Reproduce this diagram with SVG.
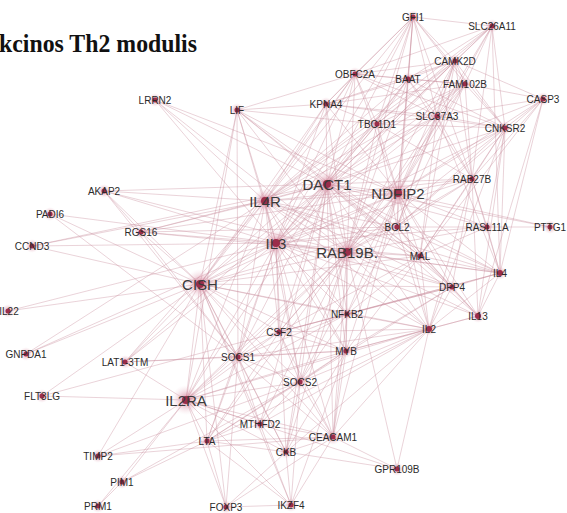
<svg xmlns="http://www.w3.org/2000/svg" width="567" height="513" viewBox="0 0 567 513">
<style>
.e{fill:none;stroke:#c98b9c;stroke-opacity:.55;stroke-width:.7}
.h{fill:url(#halo)}
.d{fill:#9b2d4a}
.t{font-family:"Liberation Sans",Arial,sans-serif;font-size:10px;fill:#2b2b2b;text-anchor:middle}
.T{font-family:"Liberation Sans",Arial,sans-serif;font-size:15px;fill:#3a3a3a;text-anchor:middle}
.title{font-family:"Liberation Serif","Times New Roman",serif;font-weight:bold;font-size:26px;fill:#111}
</style>
<defs>
<radialGradient id="halo"><stop offset="0" stop-color="#c04a6a" stop-opacity=".75"/><stop offset=".5" stop-color="#d88aa0" stop-opacity=".35"/><stop offset="1" stop-color="#f0c8d4" stop-opacity="0"/></radialGradient>
</defs>
<rect width="567" height="513" fill="#fff"/>
<text class="title" x="-1" y="52" textLength="198" lengthAdjust="spacingAndGlyphs">kcinos Th2 modulis</text>
<g id="connectors">
<path class="e" d="M413 17L492 26M413 17L455 61M413 17L355 74M413 17L408 79M413 17L326 104M413 17L377 124M413 17L437 116M413 17L327 184M413 17L398 193M413 17L265 201M413 17L472 179M413 17L465 84M413 17L505 128M413 17L347 252M413 17L276 243M413 17L397 227"/>
<path class="e" d="M492 26L455 61M492 26L408 79M492 26L465 84M492 26L355 74M492 26L327 184M492 26L398 193M492 26L472 179M492 26L505 128M492 26L437 116M492 26L265 201M492 26L377 124M492 26L500 273"/>
<path class="e" d="M455 61L355 74M455 61L408 79M455 61L465 84M455 61L543 99M455 61L437 116M455 61L377 124M455 61L505 128M455 61L327 184M455 61L398 193M455 61L472 179M455 61L326 104M455 61L265 201M455 61L347 252M455 61L276 243M455 61L397 227M455 61L420 256"/>
<path class="e" d="M355 74L408 79M355 74L465 84M355 74L326 104M355 74L377 124M355 74L327 184M355 74L398 193M355 74L265 201M355 74L505 128M355 74L437 116M355 74L347 252M355 74L276 243M355 74L200 284M355 74L237 110"/>
<path class="e" d="M408 79L465 84M408 79L377 124M408 79L437 116M408 79L505 128M408 79L327 184M408 79L398 193M408 79L326 104M408 79L265 201M408 79L472 179M408 79L276 243M408 79L347 252"/>
<path class="e" d="M465 84L543 99M465 84L437 116M465 84L505 128M465 84L327 184M465 84L398 193M465 84L472 179M465 84L377 124M465 84L326 104M465 84L265 201M465 84L347 252M465 84L397 227M465 84L276 243"/>
<path class="e" d="M326 104L377 124M326 104L327 184M326 104L398 193M326 104L265 201M326 104L276 243M326 104L347 252M326 104L200 284M326 104L437 116M326 104L505 128M326 104L237 110"/>
<path class="e" d="M543 99L437 116M543 99L505 128M543 99L398 193M543 99L472 179M543 99L327 184M543 99L500 273M543 99L397 227M543 99L420 256M543 99L478 316"/>
<path class="e" d="M437 116L377 124M437 116L505 128M437 116L327 184M437 116L398 193M437 116L472 179M437 116L265 201M437 116L347 252M437 116L276 243M437 116L397 227M437 116L420 256M437 116L500 273"/>
<path class="e" d="M377 124L505 128M377 124L327 184M377 124L398 193M377 124L265 201M377 124L347 252M377 124L276 243M377 124L397 227M377 124L200 284M377 124L472 179"/>
<path class="e" d="M505 128L327 184M505 128L398 193M505 128L472 179M505 128L347 252M505 128L500 273M505 128L397 227M505 128L420 256M505 128L487 227M505 128L478 316M505 128L429 329M505 128L276 243"/>
<path class="e" d="M155 100L265 201M155 100L327 184M155 100L276 243M155 100L347 252M155 100L398 193"/>
<path class="e" d="M237 110L265 201M237 110L327 184M237 110L398 193M237 110L276 243M237 110L347 252M237 110L200 284M237 110L397 227M237 110L186 400M237 110L420 256M237 110L377 124M237 110L238 357"/>
<path class="e" d="M327 184L398 193M327 184L265 201M327 184L276 243M327 184L347 252M327 184L397 227M327 184L420 256M327 184L472 179M327 184L487 227M327 184L550 227M327 184L500 273M327 184L200 284M327 184L452 287M327 184L347 314M327 184L429 329M327 184L478 316M327 184L279 332M327 184L346 351M327 184L238 357M327 184L300 382M327 184L186 400M327 184L104 191M327 184L141 232M327 184L32 246M327 184L125 362M327 184L333 437M327 184L286 452M327 184L260 424"/>
<path class="e" d="M398 193L265 201M398 193L276 243M398 193L347 252M398 193L397 227M398 193L420 256M398 193L472 179M398 193L487 227M398 193L550 227M398 193L500 273M398 193L200 284M398 193L452 287M398 193L347 314M398 193L429 329M398 193L478 316M398 193L279 332M398 193L346 351M398 193L300 382M398 193L186 400M398 193L141 232M398 193L333 437"/>
<path class="e" d="M265 201L276 243M265 201L347 252M265 201L397 227M265 201L420 256M265 201L472 179M265 201L200 284M265 201L104 191M265 201L141 232M265 201L279 332M265 201L238 357M265 201L300 382M265 201L186 400M265 201L347 314M265 201L429 329M265 201L346 351M265 201L452 287M265 201L500 273M265 201L125 362M265 201L32 246M265 201L26 354"/>
<path class="e" d="M472 179L347 252M472 179L397 227M472 179L420 256M472 179L500 273M472 179L478 316M472 179L452 287M472 179L429 329M472 179L487 227M472 179L276 243"/>
<path class="e" d="M104 191L276 243M104 191L200 284M104 191L141 232M104 191L238 357M104 191L347 252M50 214L276 243M50 214L238 357M50 214L200 284M32 246L200 284M32 246L276 243"/>
<path class="e" d="M141 232L397 227M141 232L276 243M141 232L200 284M141 232L238 357M141 232L347 252"/>
<path class="e" d="M397 227L276 243M397 227L347 252M397 227L420 256M397 227L500 273M397 227L452 287M397 227L429 329M397 227L478 316M397 227L487 227M397 227L347 314M397 227L200 284"/>
<path class="e" d="M487 227L550 227M487 227L347 252M487 227L276 243M487 227L420 256M487 227L500 273"/>
<path class="e" d="M276 243L347 252M276 243L420 256M276 243L200 284M276 243L452 287M276 243L347 314M276 243L429 329M276 243L279 332M276 243L346 351M276 243L238 357M276 243L300 382M276 243L186 400M276 243L333 437M276 243L125 362M276 243L500 273M276 243L478 316M276 243L26 354M276 243L8 311M276 243L207 441M276 243L286 452"/>
<path class="e" d="M347 252L420 256M347 252L200 284M347 252L452 287M347 252L347 314M347 252L429 329M347 252L500 273M347 252L478 316M347 252L279 332M347 252L346 351M347 252L238 357M347 252L300 382M347 252L186 400M347 252L333 437M347 252L260 424M347 252L286 452M347 252L207 441M347 252L397 469"/>
<path class="e" d="M420 256L500 273M420 256L452 287M420 256L429 329M420 256L478 316M420 256L347 314M420 256L200 284M420 256L279 332M420 256L346 351"/>
<path class="e" d="M500 273L452 287M500 273L478 316M500 273L429 329M500 273L347 314M500 273L279 332"/>
<path class="e" d="M200 284L452 287M200 284L347 314M200 284L429 329M200 284L279 332M200 284L346 351M200 284L238 357M200 284L300 382M200 284L186 400M200 284L8 311M200 284L26 354M200 284L125 362M200 284L42 396M200 284L98 456M200 284L207 441M200 284L333 437M200 284L260 424M200 284L286 452M200 284L226 507M200 284L291 505"/>
<path class="e" d="M452 287L478 316M452 287L429 329M452 287L347 314M452 287L346 351M452 287L279 332M452 287L300 382"/>
<path class="e" d="M347 314L429 329M347 314L279 332M347 314L346 351M347 314L238 357M347 314L300 382M347 314L333 437M347 314L186 400M478 316L429 329M478 316L346 351"/>
<path class="e" d="M429 329L279 332M429 329L346 351M429 329L238 357M429 329L300 382M429 329L186 400M429 329L333 437M429 329L397 469M429 329L207 441M429 329L286 452M429 329L260 424"/>
<path class="e" d="M279 332L346 351M279 332L238 357M279 332L300 382M279 332L186 400M279 332L333 437M279 332L207 441"/>
<path class="e" d="M346 351L238 357M346 351L300 382M346 351L186 400M346 351L333 437M346 351L286 452M346 351L207 441M346 351L291 505"/>
<path class="e" d="M125 362L186 400M125 362L238 357M125 362L346 351"/>
<path class="e" d="M238 357L300 382M238 357L186 400M238 357L333 437M238 357L207 441M238 357L260 424M238 357L286 452M238 357L226 507"/>
<path class="e" d="M300 382L186 400M300 382L333 437M300 382L207 441M300 382L286 452M300 382L260 424M300 382L122 482M300 382L291 505M300 382L98 456"/>
<path class="e" d="M42 396L186 400M42 396L279 332"/>
<path class="e" d="M186 400L260 424M186 400L333 437M186 400L207 441M186 400L286 452M186 400L98 456M186 400L122 482M186 400L226 507M186 400L291 505M186 400L98 506M186 400L397 469"/>
<path class="e" d="M260 424L333 437M260 424L207 441M260 424L286 452M260 424L291 505"/>
<path class="e" d="M333 437L207 441M333 437L286 452M333 437L226 507M333 437L291 505M333 437L397 469M333 437L98 456"/>
<path class="e" d="M207 441L286 452M207 441L226 507M207 441L291 505M207 441L98 456M207 441L122 482"/>
<path class="e" d="M286 452L226 507M286 452L291 505M286 452L397 469M122 482L98 506M226 507L291 505"/>
</g>
<g id="GFI1"><circle class="h" cx="413" cy="17" r="7"/><circle class="d" cx="413" cy="17" r="2.5"/><text class="t" x="413" y="21">GFI1</text></g>
<g id="SLC26A11"><circle class="h" cx="492" cy="26" r="7"/><circle class="d" cx="492" cy="26" r="2.5"/><text class="t" x="492" y="30">SLC26A11</text></g>
<g id="CAMK2D"><circle class="h" cx="455" cy="61" r="7"/><circle class="d" cx="455" cy="61" r="2.5"/><text class="t" x="455" y="65">CAMK2D</text></g>
<g id="OBFC2A"><circle class="h" cx="355" cy="74" r="7"/><circle class="d" cx="355" cy="74" r="2.5"/><text class="t" x="355" y="78">OBFC2A</text></g>
<g id="BAAT"><circle class="h" cx="408" cy="79" r="7"/><circle class="d" cx="408" cy="79" r="2.5"/><text class="t" x="408" y="83">BAAT</text></g>
<g id="FAM102B"><circle class="h" cx="465" cy="84" r="7"/><circle class="d" cx="465" cy="84" r="2.5"/><text class="t" x="465" y="88">FAM102B</text></g>
<g id="KPNA4"><circle class="h" cx="326" cy="104" r="7"/><circle class="d" cx="326" cy="104" r="2.5"/><text class="t" x="326" y="108">KPNA4</text></g>
<g id="CASP3"><circle class="h" cx="543" cy="99" r="7"/><circle class="d" cx="543" cy="99" r="2.5"/><text class="t" x="543" y="103">CASP3</text></g>
<g id="SLC37A3"><circle class="h" cx="437" cy="116" r="7"/><circle class="d" cx="437" cy="116" r="2.5"/><text class="t" x="437" y="120">SLC37A3</text></g>
<g id="TBC1D1"><circle class="h" cx="377" cy="124" r="7"/><circle class="d" cx="377" cy="124" r="2.5"/><text class="t" x="377" y="128">TBC1D1</text></g>
<g id="CNKSR2"><circle class="h" cx="505" cy="128" r="7"/><circle class="d" cx="505" cy="128" r="2.5"/><text class="t" x="505" y="132">CNKSR2</text></g>
<g id="LRRN2"><circle class="h" cx="155" cy="100" r="7"/><circle class="d" cx="155" cy="100" r="2.5"/><text class="t" x="155" y="104">LRRN2</text></g>
<g id="LIF"><circle class="h" cx="237" cy="110" r="7"/><circle class="d" cx="237" cy="110" r="2.5"/><text class="t" x="237" y="114">LIF</text></g>
<g id="DACT1"><circle class="h" cx="327" cy="184" r="14"/><circle class="d" cx="327" cy="184" r="4"/><text class="T" x="327" y="190">DACT1</text></g>
<g id="NDFIP2"><circle class="h" cx="398" cy="193" r="14"/><circle class="d" cx="398" cy="193" r="4"/><text class="T" x="398" y="199">NDFIP2</text></g>
<g id="IL4R"><circle class="h" cx="265" cy="201" r="13"/><circle class="d" cx="265" cy="201" r="4"/><text class="T" x="265" y="207">IL4R</text></g>
<g id="RAB27B"><circle class="h" cx="472" cy="179" r="7"/><circle class="d" cx="472" cy="179" r="2.5"/><text class="t" x="472" y="183">RAB27B</text></g>
<g id="AKAP2"><circle class="h" cx="104" cy="191" r="7"/><circle class="d" cx="104" cy="191" r="2.5"/><text class="t" x="104" y="195">AKAP2</text></g>
<g id="PADI6"><circle class="h" cx="50" cy="214" r="7"/><circle class="d" cx="50" cy="214" r="2.5"/><text class="t" x="50" y="218">PADI6</text></g>
<g id="CCND3"><circle class="h" cx="32" cy="246" r="7"/><circle class="d" cx="32" cy="246" r="2.5"/><text class="t" x="32" y="250">CCND3</text></g>
<g id="RGS16"><circle class="h" cx="141" cy="232" r="7"/><circle class="d" cx="141" cy="232" r="2.5"/><text class="t" x="141" y="236">RGS16</text></g>
<g id="BCL2"><circle class="h" cx="397" cy="227" r="7"/><circle class="d" cx="397" cy="227" r="2.5"/><text class="t" x="397" y="231">BCL2</text></g>
<g id="RASL11A"><circle class="h" cx="487" cy="227" r="7"/><circle class="d" cx="487" cy="227" r="2.5"/><text class="t" x="487" y="231">RASL11A</text></g>
<g id="PTTG1"><circle class="h" cx="550" cy="227" r="7"/><circle class="d" cx="550" cy="227" r="2.5"/><text class="t" x="550" y="231">PTTG1</text></g>
<g id="IL3"><circle class="h" cx="276" cy="243" r="14"/><circle class="d" cx="276" cy="243" r="4"/><text class="T" x="276" y="249">IL3</text></g>
<g id="RAB19B"><circle class="h" cx="347" cy="252" r="14"/><circle class="d" cx="347" cy="252" r="4"/><text class="T" x="347" y="258">RAB19B.</text></g>
<g id="MAL"><circle class="h" cx="420" cy="256" r="7"/><circle class="d" cx="420" cy="256" r="2.5"/><text class="t" x="420" y="260">MAL</text></g>
<g id="IL4"><circle class="h" cx="500" cy="273" r="7"/><circle class="d" cx="500" cy="273" r="3"/><text class="t" x="500" y="277">IL4</text></g>
<g id="CISH"><circle class="h" cx="200" cy="284" r="15"/><circle class="d" cx="200" cy="284" r="4"/><text class="T" x="200" y="290">CISH</text></g>
<g id="DPP4"><circle class="h" cx="452" cy="287" r="7"/><circle class="d" cx="452" cy="287" r="2.5"/><text class="t" x="452" y="291">DPP4</text></g>
<g id="IL22"><circle class="h" cx="8" cy="311" r="7"/><circle class="d" cx="8" cy="311" r="2.5"/><text class="t" x="9" y="315">IL22</text></g>
<g id="NFKB2"><circle class="h" cx="347" cy="314" r="7"/><circle class="d" cx="347" cy="314" r="2.5"/><text class="t" x="347" y="318">NFKB2</text></g>
<g id="IL13"><circle class="h" cx="478" cy="316" r="7"/><circle class="d" cx="478" cy="316" r="3"/><text class="t" x="478" y="320">IL13</text></g>
<g id="IL2"><circle class="h" cx="429" cy="329" r="7"/><circle class="d" cx="429" cy="329" r="3"/><text class="t" x="429" y="333">IL2</text></g>
<g id="CSF2"><circle class="h" cx="279" cy="332" r="7"/><circle class="d" cx="279" cy="332" r="2.5"/><text class="t" x="279" y="336">CSF2</text></g>
<g id="MYB"><circle class="h" cx="346" cy="351" r="7"/><circle class="d" cx="346" cy="351" r="2.5"/><text class="t" x="346" y="355">MYB</text></g>
<g id="GNPDA1"><circle class="h" cx="26" cy="354" r="7"/><circle class="d" cx="26" cy="354" r="2.5"/><text class="t" x="26" y="358">GNPDA1</text></g>
<g id="LAT1-3TM"><circle class="h" cx="125" cy="362" r="7"/><circle class="d" cx="125" cy="362" r="2.5"/><text class="t" x="125" y="366">LAT1-3TM</text></g>
<g id="SOCS1"><circle class="h" cx="238" cy="357" r="8"/><circle class="d" cx="238" cy="357" r="2.5"/><text class="t" x="238" y="361">SOCS1</text></g>
<g id="SOCS2"><circle class="h" cx="300" cy="382" r="8"/><circle class="d" cx="300" cy="382" r="2.5"/><text class="t" x="300" y="386">SOCS2</text></g>
<g id="FLT3LG"><circle class="h" cx="42" cy="396" r="7"/><circle class="d" cx="42" cy="396" r="2.5"/><text class="t" x="42" y="400">FLT3LG</text></g>
<g id="IL2RA"><circle class="h" cx="186" cy="400" r="15"/><circle class="d" cx="186" cy="400" r="4"/><text class="T" x="186" y="406">IL2RA</text></g>
<g id="MTHFD2"><circle class="h" cx="260" cy="424" r="7"/><circle class="d" cx="260" cy="424" r="2.5"/><text class="t" x="260" y="428">MTHFD2</text></g>
<g id="CEACAM1"><circle class="h" cx="333" cy="437" r="8"/><circle class="d" cx="333" cy="437" r="2.5"/><text class="t" x="333" y="441">CEACAM1</text></g>
<g id="LTA"><circle class="h" cx="207" cy="441" r="7"/><circle class="d" cx="207" cy="441" r="2.5"/><text class="t" x="207" y="445">LTA</text></g>
<g id="CKB"><circle class="h" cx="286" cy="452" r="7"/><circle class="d" cx="286" cy="452" r="2.5"/><text class="t" x="286" y="456">CKB</text></g>
<g id="TIMP2"><circle class="h" cx="98" cy="456" r="7"/><circle class="d" cx="98" cy="456" r="2.5"/><text class="t" x="98" y="460">TIMP2</text></g>
<g id="GPR109B"><circle class="h" cx="397" cy="469" r="7"/><circle class="d" cx="397" cy="469" r="2.5"/><text class="t" x="397" y="473">GPR109B</text></g>
<g id="PIM1"><circle class="h" cx="122" cy="482" r="7"/><circle class="d" cx="122" cy="482" r="2.5"/><text class="t" x="122" y="486">PIM1</text></g>
<g id="PRM1"><circle class="h" cx="98" cy="506" r="7"/><circle class="d" cx="98" cy="506" r="2.5"/><text class="t" x="98" y="510">PRM1</text></g>
<g id="FOXP3"><circle class="h" cx="226" cy="507" r="7"/><circle class="d" cx="226" cy="507" r="2.5"/><text class="t" x="226" y="511">FOXP3</text></g>
<g id="IKZF4"><circle class="h" cx="291" cy="505" r="7"/><circle class="d" cx="291" cy="505" r="2.5"/><text class="t" x="291" y="509">IKZF4</text></g>
</svg>
